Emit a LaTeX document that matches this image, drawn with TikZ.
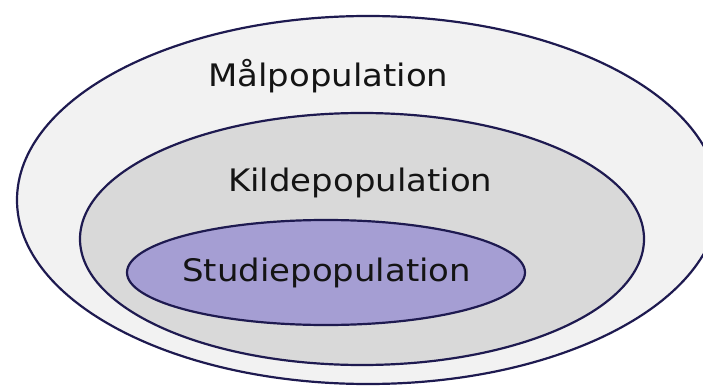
\documentclass[tikz,border=0pt]{standalone}
\usepackage{fontspec}
\setmainfont{DejaVu Sans}
\newfontfamily\labelfont[FakeStretch=1.095]{DejaVu Sans}
\usetikzlibrary{shapes.geometric}
\definecolor{rim}{HTML}{1E1A50}
\definecolor{outerfill}{HTML}{F2F2F2}
\definecolor{midfill}{HTML}{D9D9D9}
\definecolor{innerfill}{HTML}{A59ED3}
\definecolor{ink}{HTML}{141414}
\tikzset{
  popset/.style={ellipse, draw=rim, line width=2.2pt, inner sep=0pt, outer sep=0pt},
  poplabel/.style={anchor=base west, inner sep=0pt, text=ink, font=\labelfont\fontsize{31}{36}\selectfont}
}
\begin{document}
\begin{tikzpicture}[x=1pt,y=1pt]
  \useasboundingbox (0,0) rectangle (703,386);
  \clip (0,0) rectangle (703,386);
  \fill[white] (0,0) rectangle (703,386);
  % nested populations
  \node[popset, fill=outerfill, minimum width=702pt, minimum height=368pt] (maal) at (368,186) {};
  \node[popset, fill=midfill, minimum width=564pt, minimum height=252pt] (kilde) at (362,147) {};
  \node[popset, fill=innerfill, minimum width=398pt, minimum height=105pt] (studie) at (326,113.5) {};
  % labels
  \node[poplabel] (maaltxt) at (208,299.3) {Målpopulation};
  \node[poplabel] (kildetxt) at (228,195) {Kildepopulation};
  \node[poplabel] (studietxt) at (182,105) {Studiepopulation};
\end{tikzpicture}
\end{document}
